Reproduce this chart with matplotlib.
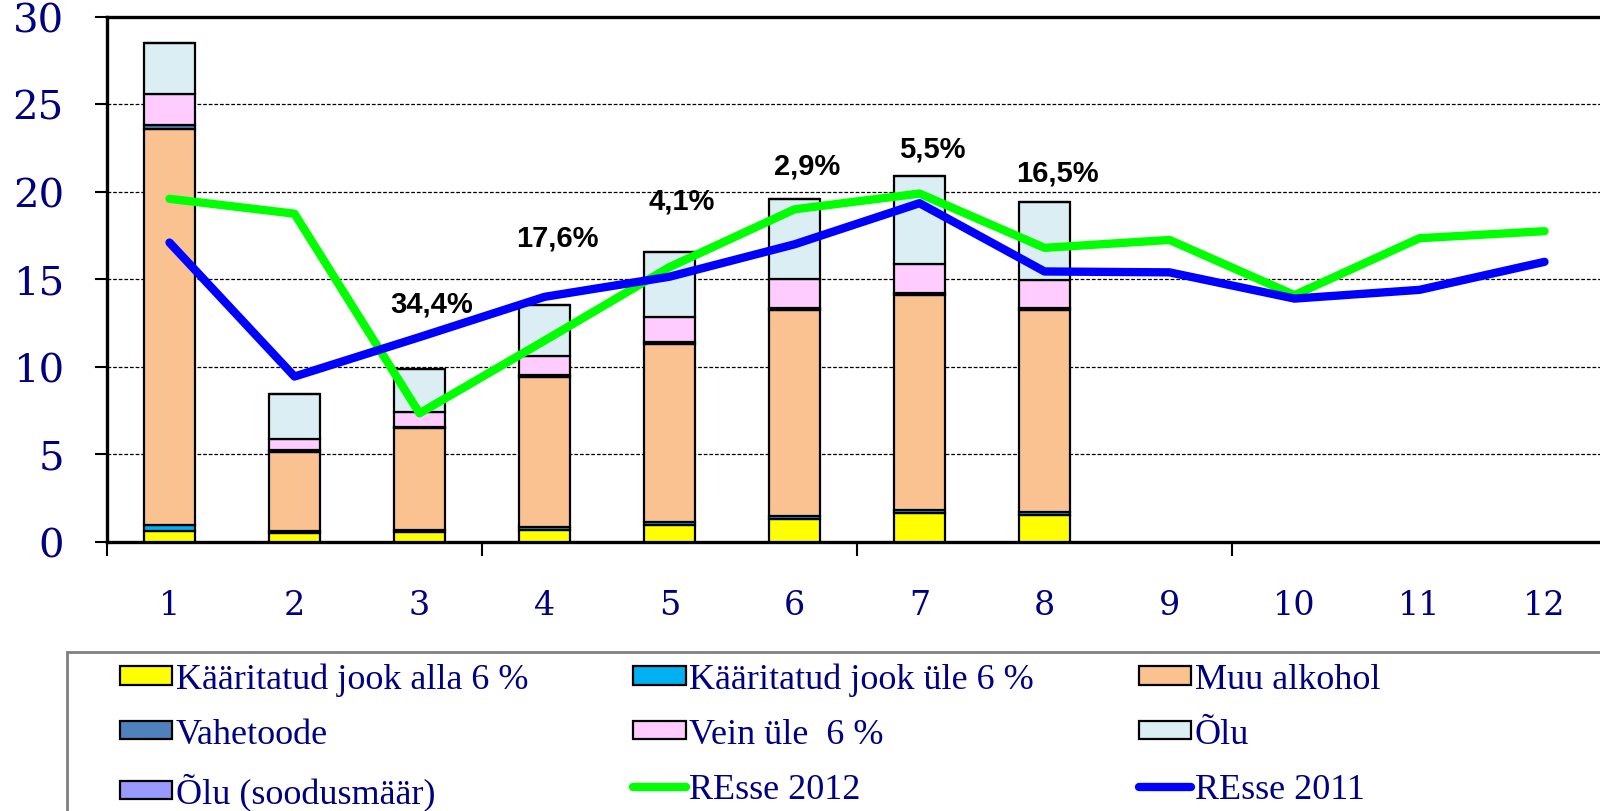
import matplotlib
matplotlib.use("Agg")
import matplotlib.pyplot as plt
from matplotlib.patches import Patch, Rectangle
from matplotlib.lines import Line2D
import numpy as np

months = [1, 2, 3, 4, 5, 6, 7, 8, 9, 10, 11, 12]
bar_months = [1, 2, 3, 4, 5, 6, 7, 8]

kaar_alla = [0.65, 0.50, 0.55, 0.70, 0.95, 1.30, 1.65, 1.52]
kaar_yle = [0.30, 0.10, 0.15, 0.15, 0.20, 0.20, 0.17, 0.18]
muu_alkohol = [22.62, 4.55, 5.80, 8.60, 10.15, 11.73, 12.28, 11.53]
vahetoode = [0.23, 0.09, 0.08, 0.10, 0.10, 0.12, 0.12, 0.12]
vein = [1.77, 0.64, 0.82, 1.06, 1.47, 1.68, 1.63, 1.62]
olu = [2.91, 2.57, 2.50, 2.91, 3.67, 4.55, 5.07, 4.47]
olu_soodus = [0, 0, 0, 0, 0, 0, 0, 0]

resse_2012 = [19.6, 18.75, 7.35, 11.5, 15.7, 19.0, 19.9, 16.8, 17.25, 14.1, 17.35, 17.75]
resse_2011 = [17.1, 9.45, 11.7, 14.0, 15.15, 17.0, 19.35, 15.45, 15.4, 13.9, 14.4, 16.0]

pct_months = [3, 4, 5, 6, 7, 8]
pct_labels = ["34,4%", "17,6%", "4,1%", "2,9%", "5,5%", "16,5%"]
pct_y = [13.6, 17.4, 19.5, 21.5, 22.5, 21.1]

series_names = ["Kääritatud jook alla 6 %", "Kääritatud jook üle 6 %", "Muu alkohol",
                "Vahetoode", "Vein üle  6 %", "Õlu", "Õlu (soodusmäär)"]
series_colors = ["#FFFF00", "#00B0F0", "#F9C290", "#4F81BD", "#FFCCFF", "#DAEEF3", "#9999FF"]
line_names = ["REsse 2012", "REsse 2011"]
line_colors = ["#00FF00", "#0000FF"]

navy = "#000080"

fig = plt.figure(figsize=(16, 8.12), dpi=100)
ax = fig.add_axes([107/1600, 1 - 543/812, 1500/1600, (543 - 17.7)/812])

stack = [kaar_alla, kaar_yle, muu_alkohol, vahetoode, vein, olu, olu_soodus]
bottom = np.zeros(len(bar_months))
for vals, col in zip(stack, series_colors):
    v = np.array(vals, dtype=float)
    ax.bar(bar_months, v, width=0.41, bottom=bottom, color=col,
           edgecolor="black", linewidth=1.6, zorder=3)
    bottom += v

ax.plot(months, resse_2012, color=line_colors[0], lw=6, solid_capstyle="round",
        solid_joinstyle="round", zorder=4)
ax.plot(months, resse_2011, color=line_colors[1], lw=6, solid_capstyle="round",
        solid_joinstyle="round", zorder=5)

for m, lab, y in zip(pct_months, pct_labels, pct_y):
    ax.text(m + 0.1, y, lab, ha="center", va="center", fontsize=21,
            fontweight="bold", family="Liberation Sans", color="black", zorder=6)

ax.set_xlim(0.5, 12.5)
ax.set_ylim(0, 30)
ax.set_yticks([0, 5, 10, 15, 20, 25, 30])
ax.set_xticks(months)
ax.set_xticks([0.5, 3.5, 6.5, 9.5, 12.5], minor=True)
ax.tick_params(axis="x", which="major", length=0, pad=34, labelsize=24, labelcolor=navy)
ax.tick_params(axis="x", which="minor", length=10, width=1.5, direction="out")
ax.tick_params(axis="y", which="major", length=9, width=1.5, direction="out", pad=22,
               labelsize=29, labelcolor=navy)
for lab in ax.get_xticklabels() + ax.get_yticklabels():
    lab.set_family("DejaVu Serif")

for y in [5, 10, 15, 20, 25]:
    ax.axhline(y, color="black", lw=0.9, ls=(0, (3, 1.5)), zorder=1)

for s in ["left", "top", "bottom", "right"]:
    ax.spines[s].set_linewidth(2.4)
    ax.spines[s].set_color("black")

# legend frame
fig.patches.append(Rectangle((67/1600, -0.1), 1.0, (812 - 653)/812 + 0.1,
                             transform=fig.transFigure, fill=False,
                             edgecolor="#808080", lw=2))

handles = {}
for name, col in zip(series_names, series_colors):
    handles[name] = Patch(facecolor=col, edgecolor="black", linewidth=1.6)
for name, col in zip(line_names, line_colors):
    handles[name] = Line2D([], [], color=col, lw=6, solid_capstyle="round")

row_order = [series_names[0], series_names[1], series_names[2],
             series_names[3], series_names[4], series_names[5],
             series_names[6], line_names[0], line_names[1]]
col_order = [row_order[i] for i in [0, 3, 6, 1, 4, 7, 2, 5, 8]]

leg = fig.legend([handles[n] for n in col_order], col_order, ncol=3,
                 loc="upper left", bbox_to_anchor=(120/1600, 1 - 664/812),
                 frameon=False, borderpad=0, borderaxespad=0,
                 handlelength=1.45, handleheight=0.4, handletextpad=0.1,
                 columnspacing=2.9, labelspacing=0.6,
                 prop={"family": "Liberation Serif", "size": 26})
for t in leg.get_texts():
    t.set_color(navy)

fig.savefig("out.png", dpi=100, facecolor="white")
